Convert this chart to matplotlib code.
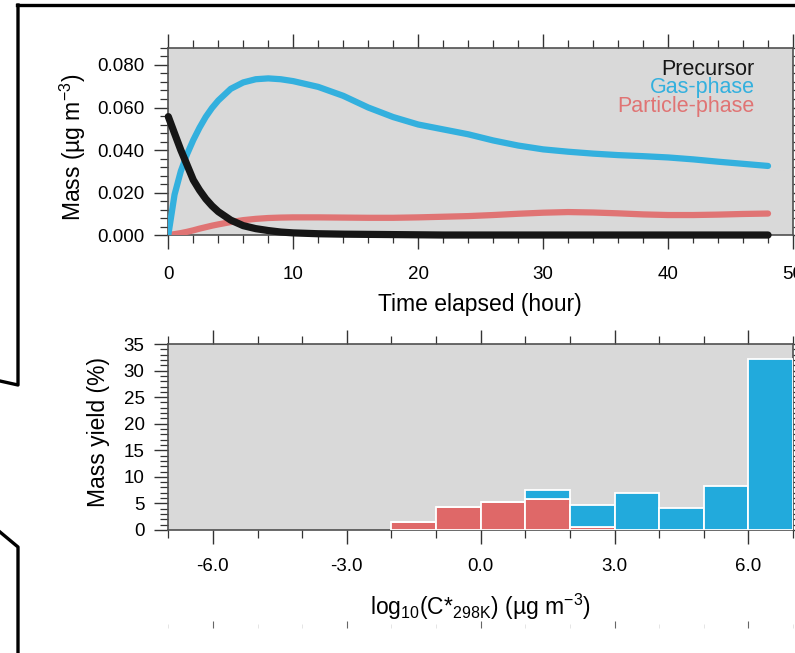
import matplotlib
matplotlib.use('Agg')
import matplotlib.pyplot as plt
from matplotlib.lines import Line2D
from matplotlib.ticker import MultipleLocator, FormatStrFormatter

plt.rcParams['font.family'] = ['Liberation Sans', 'DejaVu Sans']
plt.rcParams['mathtext.fontset'] = 'custom'
plt.rcParams['mathtext.rm'] = 'Liberation Sans'
plt.rcParams['mathtext.it'] = 'Liberation Sans'

# --- top panel: mass vs. time ---
time_h = [0, 0.5, 1, 1.5, 2, 2.5, 3, 3.5, 4, 5, 6, 7, 8, 9, 10, 12, 14, 16, 18, 20,
          22, 24, 26, 28, 30, 32, 34, 36, 38, 40, 42, 44, 46, 48]
precursor = [0.0557, 0.0478, 0.0400, 0.0330, 0.0259, 0.0211, 0.0170, 0.0137, 0.0110,
             0.0070, 0.0044, 0.0030, 0.0021, 0.0014, 0.0010, 0.0006, 0.0004, 0.0003,
             0.0002, 0.0001, 0, 0, 0, 0, 0, 0, 0, 0, 0, 0, 0, 0, 0, 0]
gas_phase = [0, 0.019, 0.030, 0.038, 0.0447, 0.0505, 0.0556, 0.0598, 0.0633, 0.0688,
             0.0718, 0.0733, 0.0737, 0.0733, 0.0724, 0.0697, 0.0655, 0.0600, 0.0555,
             0.0520, 0.0497, 0.0474, 0.0445, 0.0421, 0.0403, 0.0392, 0.0383, 0.0376,
             0.0371, 0.0365, 0.0356, 0.0345, 0.0335, 0.0325]
particle_phase = [0, 0.0004, 0.0009, 0.0015, 0.0022, 0.0030, 0.0037, 0.0044, 0.0050,
                  0.0061, 0.0070, 0.0076, 0.0080, 0.0082, 0.0083, 0.0083, 0.0082, 0.0081,
                  0.0081, 0.0083, 0.0086, 0.0089, 0.0094, 0.0100, 0.0105, 0.0108, 0.0106,
                  0.0102, 0.0097, 0.0094, 0.0094, 0.0096, 0.0099, 0.0101]

# --- bottom panel: volatility distribution (bin left edges) ---
log_cstar = [-2, -1, 0, 1, 2, 3, 4, 5, 6]
yield_particle = [1.56, 4.27, 5.33, 5.77, 0.5, 0, 0, 0, 0]
yield_gas = [0, 0, 0, 1.76, 4.2, 7.03, 4.2, 8.35, 32.1]

BLACK = '#161616'
BLUE_LINE = '#33b0de'
RED_LINE = '#e07474'
BLUE_BAR = '#22aadc'
RED_BAR = '#df6868'
BG = '#d9d9d9'
SPINE = '#505050'

fig = plt.figure(figsize=(7.95, 6.53), dpi=100)


def style_axes(ax):
    ax.set_facecolor(BG)
    for s in ax.spines.values():
        s.set_color(SPINE)
        s.set_linewidth(1.2)
    ax.tick_params(which='both', direction='out', top=True, right=True,
                   color='#333333', labelsize=13.5, labelcolor='black')
    ax.tick_params(which='major', length=10, width=1.0)
    ax.tick_params(which='minor', length=5.5, width=0.9)


ax1 = fig.add_axes([0.2117, 0.6401, 0.7858, 0.2864])
style_axes(ax1)
line_kw = dict(solid_capstyle='round', solid_joinstyle='round')
ax1.plot(time_h, particle_phase, color=RED_LINE, lw=4.5, zorder=3, **line_kw)
ax1.plot(time_h, gas_phase, color=BLUE_LINE, lw=4.5, zorder=4, **line_kw)
ax1.plot(time_h, precursor, color=BLACK, lw=5.2, zorder=5, clip_on=False, **line_kw)
ax1.set_xlim(0, 50)
ax1.set_ylim(0, 0.088)
ax1.xaxis.set_major_locator(MultipleLocator(10))
ax1.xaxis.set_minor_locator(MultipleLocator(2))
ax1.yaxis.set_major_locator(MultipleLocator(0.02))
ax1.yaxis.set_minor_locator(MultipleLocator(0.004))
ax1.yaxis.set_major_formatter(FormatStrFormatter('%.3f'))
ax1.tick_params(axis='x', pad=12)
ax1.tick_params(axis='y', pad=7)
ax1.set_xlabel('Time elapsed (hour)', fontsize=16.5)
ax1.xaxis.set_label_coords(0.498, -0.31)
ax1.xaxis.label.set_va('top')
ax1.set_ylabel('Mass (µg m$^{-3}$)', fontsize=16.5)
ax1.yaxis.set_label_coords(-0.128, 0.47)

legend_items = [('Precursor', BLACK), ('Gas-phase', BLUE_LINE), ('Particle-phase', RED_LINE)]
for i, (txt, col) in enumerate(legend_items):
    ax1.text(0.939, 0.856 - i * 0.099, txt, color=col, fontsize=15.5,
             ha='right', va='baseline', transform=ax1.transAxes, zorder=6)

ax2 = fig.add_axes([0.2117, 0.1884, 0.7858, 0.2848])
style_axes(ax2)
ax2.bar(log_cstar, yield_particle, width=1, align='edge', color=RED_BAR,
        edgecolor='white', linewidth=1.3, zorder=3)
ax2.bar(log_cstar, yield_gas, width=1, align='edge', bottom=yield_particle,
        color=BLUE_BAR, edgecolor='white', linewidth=1.3, zorder=3)
ax2.set_xlim(-7, 7)
ax2.set_ylim(0, 35)
ax2.xaxis.set_major_locator(MultipleLocator(3))
ax2.xaxis.set_minor_locator(MultipleLocator(1))
ax2.yaxis.set_major_locator(MultipleLocator(5))
ax2.yaxis.set_minor_locator(MultipleLocator(1))
ax2.xaxis.set_major_formatter(FormatStrFormatter('%.1f'))
ax2.tick_params(axis='x', pad=10)
ax2.tick_params(axis='y', pad=7)
ax2.set_xlabel('log$_{10}$(C*$_{298K}$) (µg m$^{-3}$)', fontsize=16.5)
ax2.xaxis.set_label_coords(0.5, -0.33)
ax2.xaxis.label.set_va('top')
ax2.set_ylabel('Mass yield (%)', fontsize=16.5)
ax2.yaxis.set_label_coords(-0.093, 0.527)

# partly visible panel below (only its top ticks are in view)
ax3 = fig.add_axes([0.2117, -0.3, 0.7858, 0.3383])
ax3.set_xlim(-7, 7)
ax3.set_facecolor('none')
for s in ax3.spines.values():
    s.set_visible(False)
ax3.xaxis.set_major_locator(MultipleLocator(3))
ax3.xaxis.set_minor_locator(MultipleLocator(1))
ax3.tick_params(which='both', top=True, bottom=False, left=False, right=False,
                labeltop=False, labelbottom=False, labelleft=False, direction='out')
ax3.tick_params(which='major', length=5, color='#666666')
ax3.tick_params(which='minor', length=3, color='#e0e0e0')

# screenshot frame lines
W, H = 795.0, 653.0
frame_paths = [
    [(17, 5), (795, 5)],
    [(18, 5), (18, 385), (0, 381)],
    [(0, 532), (18, 547), (18, 653)],
]
for path in frame_paths:
    xs = [p[0] / W for p in path]
    ys = [1 - p[1] / H for p in path]
    fig.add_artist(Line2D(xs, ys, color='black', lw=2.4, transform=fig.transFigure))

fig.savefig('out.png', dpi=100)
